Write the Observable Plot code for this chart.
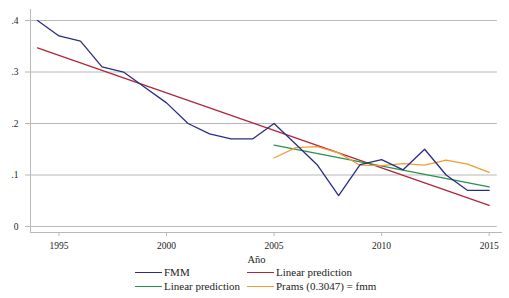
<!DOCTYPE html>
<html>
<head>
<meta charset="utf-8">
<script src="https://cdn.jsdelivr.net/npm/d3@7"></script>
<script src="https://cdn.jsdelivr.net/npm/@observablehq/plot@0.6"></script>
<style>
  body { margin: 0; background: #fff; }
  #wrap { position: relative; width: 509px; height: 298px; font-family: "Liberation Serif", serif; }
  #legend { position: absolute; left: 0; top: 0; width: 509px; height: 298px; pointer-events: none; }
  .item { position: absolute; display: flex; align-items: center; font-size: 11px; color: #222; white-space: nowrap; }
  .sw { width: 27px; height: 0; border-top: 1.2px solid; margin-right: 2px; }
</style>
</head>
<body>
<div id="wrap"><div id="chart"></div><div id="legend"></div></div>
<script>
const years = [1994,1995,1996,1997,1998,1999,2000,2001,2002,2003,2004,2005,2006,2007,2008,2009,2010,2011,2012,2013,2014,2015];
const fmm = [0.40,0.37,0.36,0.31,0.30,0.27,0.24,0.20,0.18,0.17,0.17,0.20,0.16,0.12,0.06,0.12,0.13,0.11,0.15,0.10,0.07,0.07];
const linYears = [1994, 2015];
const linPred = [0.347, 0.041];
const lin2Years = [2005, 2015];
const linPred2 = [0.158, 0.077];
const pramsYears = [2005,2006,2007,2008,2009,2010,2011,2012,2013,2014,2015];
const prams = [0.133,0.153,0.155,0.143,0.119,0.118,0.122,0.119,0.129,0.121,0.105];
const xTicks = [1995,2000,2005,2010,2015];
const yTicks = [0,0.1,0.2,0.3,0.4];
const seriesNames = ["FMM","Linear prediction","Linear prediction","Prams (0.3047) = fmm"];
const colors = ["#2b2d84","#b0263a","#27924a","#f39c34"];

const toRows = (xs, ys) => xs.map((x, i) => ({x, y: ys[i]}));
const xDom = [1993.675, 2015.62];
const yDom = [-0.0117, 0.4214];
const fmtY = d => d === 0 ? "0" : d3.format(".1f")(d).replace(/^0/, "");

const chart = Plot.plot({
  width: 509,
  height: 268,
  marginLeft: 30,
  marginRight: 7,
  marginTop: 9,
  marginBottom: 36,
  style: {fontFamily: "Liberation Serif, serif", fontSize: "9.5px", color: "#222", background: "#fff"},
  x: {domain: xDom},
  y: {domain: yDom},
  marks: [
    Plot.ruleY(yTicks, {x1: xDom[0], x2: 2015.38, stroke: "#b8b8b8", strokeWidth: 1}),
    Plot.ruleY([yDom[0]], {stroke: "#b8b8b8"}),
    Plot.ruleX([xDom[0]], {stroke: "#b8b8b8"}),
    Plot.axisX({ticks: xTicks, tickSize: 4, tickPadding: 6, tickFormat: d => String(d), stroke: "#b8b8b8", label: null, fontSize: 9.5}),
    Plot.axisY({ticks: yTicks, tickSize: 5, tickPadding: 7, tickFormat: fmtY, stroke: "#b8b8b8", label: null, fontSize: 9.5}),
    Plot.text(["Año"], {frameAnchor: "bottom", dy: 30, dx: -10, fontSize: 10.5, fill: "#222"}),
    Plot.line(toRows(linYears, linPred), {x: "x", y: "y", stroke: colors[1], strokeWidth: 1.3}),
    Plot.line(toRows(lin2Years, linPred2), {x: "x", y: "y", stroke: colors[2], strokeWidth: 1.3}),
    Plot.line(toRows(pramsYears, prams), {x: "x", y: "y", stroke: colors[3], strokeWidth: 1.3}),
    Plot.line(toRows(years, fmm), {x: "x", y: "y", stroke: colors[0], strokeWidth: 1.3})
  ]
});
document.getElementById("chart").appendChild(chart);

const pos = [[135, 273], [247, 273], [135, 287], [247, 287]];
const leg = document.getElementById("legend");
seriesNames.forEach((name, i) => {
  const d = document.createElement("div");
  d.className = "item";
  d.style.left = pos[i][0] + "px";
  d.style.top = (pos[i][1] - 7) + "px";
  d.innerHTML = `<span class="sw" style="border-color:${colors[i]}"></span><span>${name}</span>`;
  leg.appendChild(d);
});
</script>
</body>
</html>
